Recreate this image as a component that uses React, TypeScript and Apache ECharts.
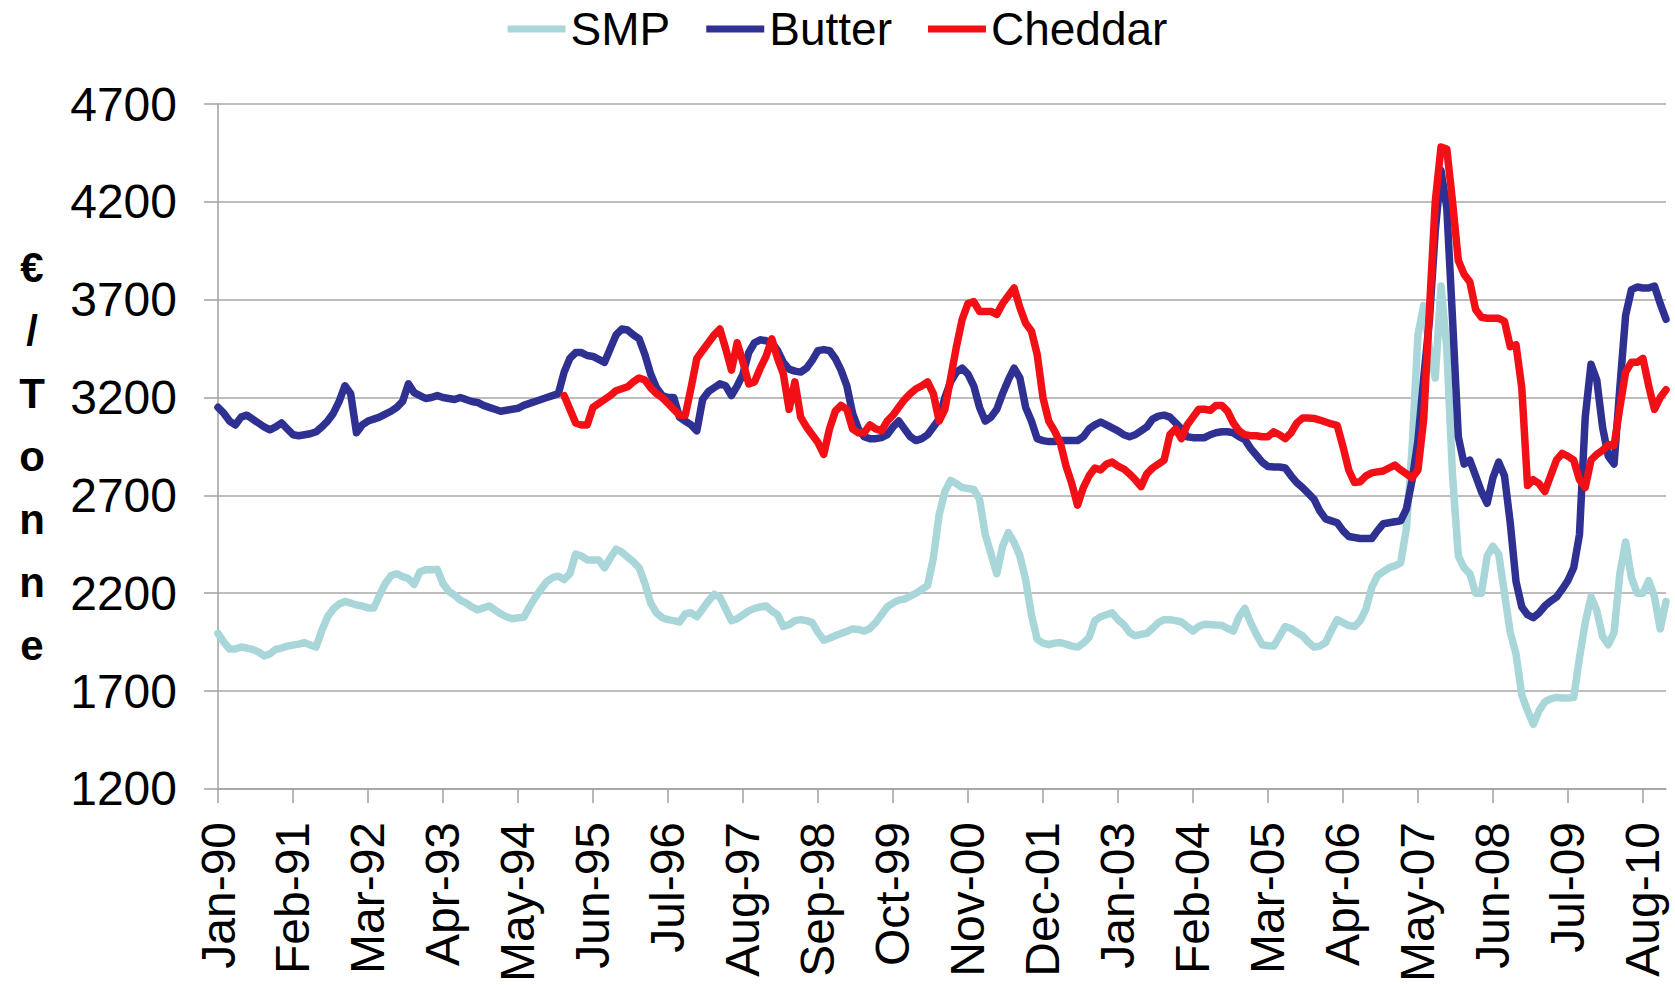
import React, { useEffect, useRef } from "react";
import * as echarts from "echarts";

const MONTHS = ["Jan", "Feb", "Mar", "Apr", "May", "Jun", "Jul", "Aug", "Sep", "Oct", "Nov", "Dec"];
const YEARS = ["90", "91", "92", "93", "94", "95", "96", "97", "98", "99", "00", "01", "02", "03", "04", "05", "06", "07", "08", "09", "10"];
const CATEGORIES: string[] = YEARS.flatMap((y) => MONTHS.map((m) => `${m}-${y}`));

const SERIES_NAMES = ["SMP", "Butter", "Cheddar"];
const Y_MIN = 1200;
const Y_MAX = 4700;
const Y_STEP = 500;
const Y_TITLE = "€\n/\nT\no\nn\nn\ne";

// €/tonne, monthly, Jan-90 .. Dec-10
const SMP = [
  1995, 1950, 1915, 1915, 1925, 1920, 1913, 1900, 1880, 1890, 1913, 1920,
  1930, 1935, 1940, 1948, 1935, 1925, 2010, 2080, 2120, 2145, 2158, 2150,
  2140, 2135, 2125, 2125, 2190, 2250, 2290, 2300, 2285, 2275, 2245, 2310,
  2320, 2320, 2322, 2250, 2210, 2190, 2165, 2150, 2130, 2115, 2125, 2135,
  2115, 2095, 2080, 2070, 2075, 2077, 2130, 2180, 2220, 2260, 2280, 2287,
  2270, 2300, 2400, 2390, 2370, 2370, 2370, 2330, 2380, 2425, 2410, 2385,
  2360, 2330, 2250, 2150, 2100, 2075, 2065, 2060, 2053, 2095, 2100, 2080,
  2120, 2160, 2194, 2180, 2120, 2060, 2070, 2090, 2110, 2123, 2130, 2135,
  2110, 2090, 2030, 2040, 2060, 2065, 2060, 2050, 2000, 1960, 1970, 1983,
  1995, 2005, 2018, 2015, 2007, 2020, 2050, 2090, 2130, 2150, 2165, 2170,
  2185, 2200, 2220, 2240, 2380, 2600, 2720, 2777, 2760, 2740, 2735, 2730,
  2680, 2500, 2400, 2300, 2440, 2510, 2460, 2390, 2270, 2090, 1965, 1945,
  1937, 1945, 1948, 1940, 1930, 1925, 1945, 1975, 2060, 2080, 2090, 2100,
  2065, 2040, 2000, 1983, 1990, 1995, 2020, 2050, 2065, 2065, 2060, 2053,
  2030, 2007, 2030, 2042, 2040, 2038, 2037, 2020, 2007, 2080, 2123, 2050,
  1990, 1937, 1932, 1930, 1980, 2030, 2020, 2000, 1983, 1950, 1925, 1930,
  1948, 2010, 2065, 2050, 2035, 2030, 2060, 2120, 2230, 2290, 2310, 2330,
  2340, 2355, 2530, 2950, 3520, 3670, 3450, 3300, 3770, 3450, 2800, 2390,
  2330, 2300, 2200, 2200, 2390, 2440, 2400, 2200, 2000, 1890, 1680, 1600,
  1530, 1600, 1645, 1660, 1668, 1665, 1665, 1668, 1870, 2050, 2182, 2112,
  1980, 1937, 2000, 2300, 2462, 2280, 2200, 2200, 2264, 2182, 2018, 2158,
];

const BUTTER = [
  3150, 3120, 3080, 3060, 3100, 3110, 3090, 3070, 3050, 3035, 3050, 3070,
  3040, 3010, 3005, 3010, 3015, 3025, 3050, 3080, 3120, 3180, 3260, 3220,
  3020, 3060, 3080, 3090, 3100, 3115, 3130, 3150, 3180, 3270, 3225, 3210,
  3195, 3200, 3210, 3200, 3195, 3190, 3200, 3190, 3180, 3175, 3160, 3150,
  3140, 3130, 3135, 3140, 3145, 3160, 3170, 3180, 3190, 3200, 3210, 3220,
  3330, 3400, 3430, 3430, 3415, 3410, 3395, 3380, 3450, 3520, 3550, 3545,
  3520, 3500, 3420, 3320, 3250, 3210, 3200, 3200, 3100, 3080, 3060, 3030,
  3190, 3230, 3250, 3270, 3260, 3210, 3260, 3320, 3430, 3480, 3495, 3490,
  3480, 3440, 3380, 3345, 3335, 3330, 3350, 3390, 3440, 3445, 3440, 3400,
  3340, 3260, 3120, 3040, 3000, 2990, 2990, 2995, 3010, 3050, 3080, 3040,
  3000, 2980, 2990, 3010, 3050, 3090, 3200, 3280, 3330, 3350, 3320, 3260,
  3150, 3080, 3100, 3140, 3220, 3290, 3350, 3300, 3150, 3080, 2990, 2980,
  2975, 2975, 2980, 2980, 2980, 2980, 3000, 3040, 3060, 3075, 3060, 3045,
  3030, 3010, 3000, 3010, 3030, 3050, 3090, 3105, 3110, 3100, 3070, 3040,
  3000, 2995, 2995, 2995, 3010, 3020, 3025, 3025, 3020, 3000, 2985, 2940,
  2905, 2870, 2848, 2845, 2845, 2840, 2800, 2765, 2740, 2710, 2680, 2620,
  2580, 2570, 2560, 2520, 2490, 2485, 2480, 2480, 2480, 2520, 2555, 2560,
  2565, 2570, 2630, 2780, 2980, 3300, 3600, 4050, 4360, 4170, 3600, 3000,
  2860, 2880, 2800, 2720, 2660, 2790, 2870, 2800, 2560, 2260, 2130, 2090,
  2075, 2100, 2135, 2160, 2180, 2220, 2265, 2330, 2500, 3100, 3370, 3290,
  3050, 2900, 2860, 3250, 3620, 3750, 3765, 3760, 3760, 3770, 3680, 3600,
];

// Cheddar series begins at Jan-95
const CHEDDAR_START = "Jan-95";
const CHEDDAR = [
  3210, 3140, 3070, 3060, 3060, 3150, 3170, 3190, 3210, 3235, 3245, 3255,
  3280, 3300, 3290, 3250, 3220, 3200, 3170, 3140, 3110, 3110, 3250, 3400,
  3440, 3480, 3520, 3550, 3450, 3340, 3480, 3380, 3270, 3280, 3350, 3410,
  3500, 3400, 3320, 3140, 3280, 3100, 3050, 3010, 2970, 2910, 3040, 3130,
  3160, 3140, 3040, 3020, 3020, 3060, 3040, 3030, 3080, 3110, 3150, 3190,
  3220, 3245, 3260, 3280, 3220, 3080, 3140, 3300, 3460, 3600, 3680, 3690,
  3640, 3640, 3640, 3625, 3680, 3720, 3760, 3660, 3580, 3540, 3420, 3200,
  3080, 3030, 2970, 2850, 2760, 2650, 2740, 2800, 2840, 2830, 2860, 2870,
  2850, 2835, 2810, 2780, 2745, 2810, 2840, 2860, 2880, 3010, 3040, 2990,
  3060, 3100, 3140, 3140, 3135, 3160, 3160, 3130, 3070, 3030, 3010, 3005,
  3005, 3000, 3000, 3025, 3010, 2990, 3020, 3070, 3095, 3095, 3093, 3085,
  3075, 3065, 3058, 2950, 2830, 2766, 2770, 2800, 2815, 2820, 2825, 2840,
  2855, 2830, 2810, 2790, 2830, 3090, 3650, 4200, 4480, 4470, 4200, 3900,
  3830, 3790, 3650, 3610, 3605, 3605, 3605, 3590, 3460, 3470, 3250, 2750,
  2780, 2760, 2720, 2800, 2880, 2915, 2900, 2880, 2780, 2740, 2880, 2910,
  2930, 2960, 2955, 3150, 3330, 3380, 3380, 3400, 3260, 3140, 3200, 3240,
];

const COLORS = ["#A8D6D9", "#2E3192", "#F20F15"];
const FONT = "'Liberation Sans', Arial, sans-serif";
const AXIS_GREY = "#A0A0A0";

export default function App() {
  const ref = useRef<HTMLDivElement>(null);
  useEffect(() => {
    if (!ref.current) return;
    const chart = echarts.init(ref.current, undefined, { renderer: "svg" });
    const startIdx = CATEGORIES.indexOf(CHEDDAR_START);
    const cheddarData = CATEGORIES.map((_, i) => (i < startIdx ? null : CHEDDAR[i - startIdx]));
    const dataSets = [SMP, BUTTER, cheddarData];
    chart.setOption({
      animation: false,
      backgroundColor: "#fff",
      legend: {
        top: 1,
        left: "center",
        icon: "rect",
        itemWidth: 58,
        itemHeight: 7,
        itemGap: 36,
        textStyle: { fontSize: 46, color: "#000", fontFamily: FONT },
        data: SERIES_NAMES,
      },
      grid: { left: 218, right: 9, top: 104, bottom: 193 },
      xAxis: {
        type: "category",
        data: CATEGORIES,
        boundaryGap: false,
        axisLine: { lineStyle: { color: AXIS_GREY, width: 1.5 } },
        axisTick: { interval: 12, length: 14, lineStyle: { color: AXIS_GREY, width: 1.5 } },
        axisLabel: { interval: 12, rotate: 90, margin: 33, fontSize: 48, color: "#000", fontFamily: FONT },
        splitLine: { show: false },
      },
      yAxis: {
        type: "value",
        min: Y_MIN,
        max: Y_MAX,
        interval: Y_STEP,
        axisLine: { show: true, lineStyle: { color: AXIS_GREY, width: 1.5 } },
        axisTick: { show: true, length: 14, lineStyle: { color: AXIS_GREY, width: 1.5 } },
        axisLabel: {
          fontSize: 48,
          margin: 41,
          color: "#000",
          fontFamily: FONT,
          formatter: (v: number) => String(v),
        },
        splitLine: { lineStyle: { color: "#BDBDBD", width: 2 } },
      },
      graphic: [
        {
          type: "text",
          x: 32,
          y: 456,
          style: {
            text: Y_TITLE,
            font: `bold 42px ${FONT}`,
            lineHeight: 63,
            fill: "#000",
            align: "center",
            verticalAlign: "middle",
          },
        },
      ],
      series: SERIES_NAMES.map((name, i) => ({
        name,
        type: "line",
        data: dataSets[i],
        showSymbol: false,
        symbol: "none",
        connectNulls: false,
        color: COLORS[i],
        lineStyle: { width: 7.5, color: COLORS[i], join: "round", cap: "round" },
        z: 2 + i,
      })),
    });
    return () => chart.dispose();
  }, []);
  return <div ref={ref} style={{ position: "absolute", left: 0, top: 0, width: 1675, height: 985 }} />;
}
